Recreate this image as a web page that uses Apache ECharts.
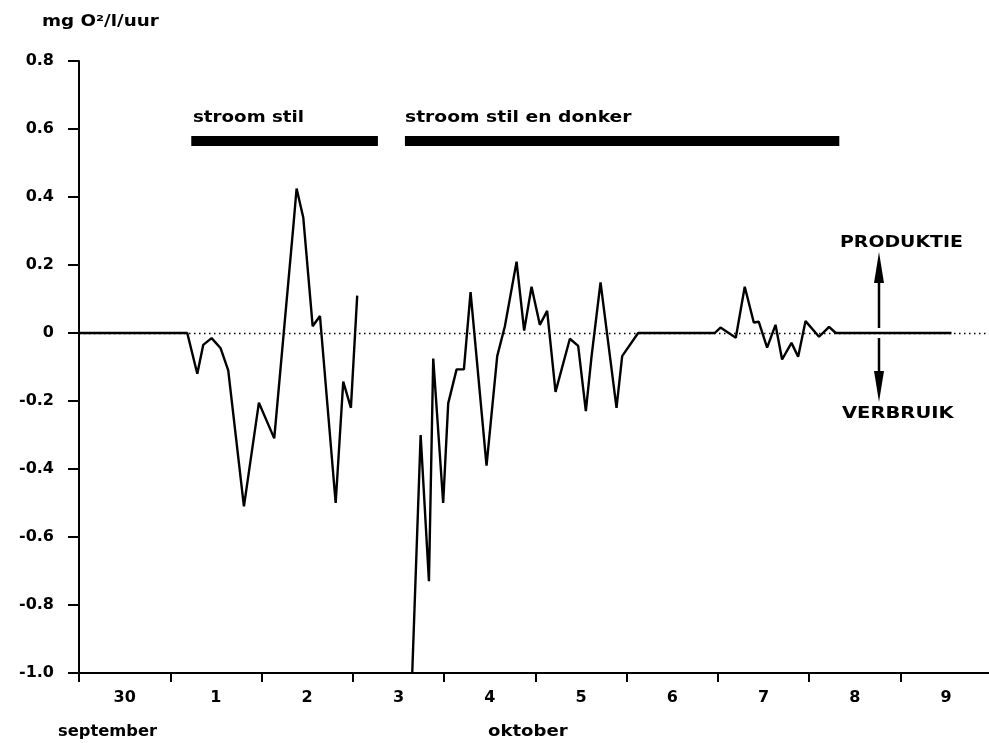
<!DOCTYPE html>
<html>
<head>
<meta charset="utf-8">
<script src="https://cdn.jsdelivr.net/npm/echarts@6/dist/echarts.min.js"></script>
<style>html,body{margin:0;padding:0;background:#fff}#c{width:989px;height:743px}</style>
</head>
<body>
<div id="c"></div>
<script>
// x = days since start of 30 September
const dayLabels = ['30','1','2','3','4','5','6','7','8','9'];
const dayTicks = [0,1,2,3,4,5,6,7,8,9];
const dayLabelPos = [0.5,1.5,2.5,3.5,4.5,5.5,6.5,7.5,8.5,9.5];
const yTicks = [-1.0,-0.8,-0.6,-0.4,-0.2,0,0.2,0.4,0.6,0.8];
const xDays = [0,1.186,1.296,1.361,1.453,1.552,1.635,1.807,1.971,2.139,2.347,2.384,2.457,2.560,2.640,2.812,2.895,2.979,3.048,
  3.30,
  3.651,3.743,3.834,3.881,3.990,4.045,4.137,4.217,4.290,4.465,4.582,4.666,4.794,4.877,4.958,5.049,5.129,5.221,5.378,5.469,5.553,5.615,5.714,5.889,5.951,6.126,
  6.966,7.028,7.196,7.294,7.393,7.448,7.539,7.631,7.703,7.806,7.879,7.960,8.108,8.218,8.291,9.559];
const oxygen = [0,0,-0.12,-0.035,-0.015,-0.045,-0.11,-0.51,-0.205,-0.31,0.31,0.425,0.34,0.02,0.05,-0.50,-0.143,-0.22,0.11,
  null,
  -1.0,-0.30,-0.73,-0.075,-0.50,-0.207,-0.107,-0.107,0.12,-0.39,-0.068,0.02,0.21,0.007,0.136,0.024,0.065,-0.173,-0.017,-0.038,-0.23,-0.07,0.149,-0.22,-0.068,0,
  0,0.016,-0.014,0.136,0.031,0.033,-0.043,0.024,-0.078,-0.029,-0.07,0.035,-0.011,0.018,0,0];
const barStart = [1.23, 3.571];
const barEnd = [3.275, 8.33];
const barLevel = [0.565, 0.565];
const barTexts = ['stroom stil', 'stroom stil en donker'];

const lineData = xDays.map((d,i)=>[d, oxygen[i]]);
const font = 'DejaVu Sans';
const chart = echarts.init(document.getElementById('c'), null, {renderer:'canvas'});

const barSeries = barStart.map((s,i)=>({
  type:'line', symbol:'none', silent:true,
  data:[[s,barLevel[i]],[barEnd[i],barLevel[i]]],
  lineStyle:{color:'#000', width:10, cap:'butt'}
}));

function txt(text, x, y, size, sx){
  return {type:'text', x:x, y:y, scaleX:sx, style:{text:text, fill:'#000', font:'bold '+size+'px '+font, verticalAlign:'middle'}};
}

chart.setOption({
  animation:false,
  backgroundColor:'#fff',
  grid:{left:79, right:0, top:61, bottom:70, containLabel:false},
  xAxis:{type:'value', min:0, max:9.97,
     axisLine:{show:true, onZero:false, lineStyle:{color:'#000', width:2}},
     axisTick:{show:true, customValues:dayTicks, length:9, lineStyle:{color:'#000', width:2}},
     axisLabel:{customValues:dayLabelPos, margin:17, color:'#000', fontFamily:font, fontWeight:'bold', fontSize:16,
       formatter:v=>dayLabels[Math.floor(v)]},
     splitLine:{show:false}},
  yAxis:{type:'value', min:yTicks[0], max:yTicks[yTicks.length-1], interval:0.2,
    axisLine:{show:true, lineStyle:{color:'#000', width:2}},
    axisTick:{show:true, length:11, lineStyle:{color:'#000', width:2}},
    axisLabel:{margin:25, color:'#000', fontFamily:font, fontWeight:'bold', fontSize:16,
      formatter:v=>Math.abs(v)<1e-9?'0':v.toFixed(1)},
    splitLine:{show:false}},
  series:[
    {type:'line', data:lineData, symbol:'none', connectNulls:false,
     lineStyle:{color:'#000', width:2.4}, z:3,
     markLine:{silent:true, symbol:'none', label:{show:false},
       lineStyle:{color:'#000', type:[1.5,3.5], width:1.3},
       data:[{yAxis:0}]}}
  ].concat(barSeries),
  graphic:[
    txt('mg O²/l/uur', 42, 22, 15, 1.22),
    txt(barTexts[0], 193, 118, 16, 1.14),
    txt(barTexts[1], 405, 118, 16, 1.17),
    txt('PRODUKTIE', 840, 243, 16, 1.18),
    txt('VERBRUIK', 842, 414, 16, 1.22),
    txt('september', 58, 732, 16, 1.02),
    txt('oktober', 488, 732, 16, 1.13),
    {type:'line', shape:{x1:879,y1:280,x2:879,y2:328}, style:{stroke:'#000', lineWidth:2.5}},
    {type:'polygon', shape:{points:[[879,252],[874,283],[884,283]]}, style:{fill:'#000'}},
    {type:'line', shape:{x1:879,y1:338,x2:879,y2:374}, style:{stroke:'#000', lineWidth:2.5}},
    {type:'polygon', shape:{points:[[879,402],[874,371],[884,371]]}, style:{fill:'#000'}}
  ]
});
</script>
</body>
</html>
